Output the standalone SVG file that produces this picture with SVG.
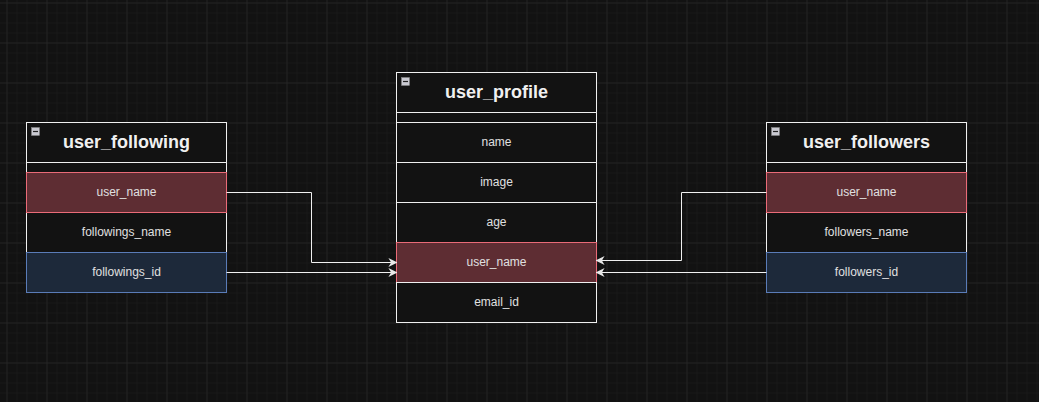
<svg xmlns="http://www.w3.org/2000/svg" width="1039" height="402" viewBox="0 0 1039 402">
<defs>
<pattern id="minor" x="6.5" y="2.5" width="10" height="10" patternUnits="userSpaceOnUse">
<path d="M0 0H10M0 0V10" fill="none" stroke="#1d1d1d" stroke-width="1"/>
</pattern>
<pattern id="major" x="6.5" y="2.5" width="40" height="40" patternUnits="userSpaceOnUse">
<path d="M0 0H40M0 0V40" fill="none" stroke="#2b2b2b" stroke-width="1"/>
</pattern>
<marker id="arr" viewBox="0 0 10 10" refX="9" refY="5" markerWidth="9" markerHeight="9" markerUnits="userSpaceOnUse" orient="auto">
<path d="M0 0L10 5L0 10L3 5Z" fill="#e8e8e8"/>
</marker>
</defs>
<style>
.box{fill:#121212;stroke:#f0f0f0;stroke-width:1}
.pk{fill:#5e2d33;stroke:#ea6b78;stroke-width:1}
.fk{fill:#1d293a;stroke:#5a7cb8;stroke-width:1}
.title{font-family:"Liberation Sans",Arial,sans-serif;font-size:18px;font-weight:bold;fill:#f0f0f0;text-anchor:middle}
.row{font-family:"Liberation Sans",Arial,sans-serif;font-size:12px;fill:#e0e0e0;text-anchor:middle}
.icon{fill:#c8c8d0;stroke:#888;stroke-width:0.5}
.conn{fill:none;stroke:#f0f0f0;stroke-width:1;marker-end:url(#arr)}
</style>
<rect width="1039" height="402" fill="#121212"/>
<rect width="1039" height="402" fill="url(#minor)"/>
<rect width="1039" height="402" fill="url(#major)"/>

<g id="user_following">
<rect class="box" x="26.5" y="122.5" width="200" height="170"/>
<line x1="26.5" y1="162.5" x2="226.5" y2="162.5" stroke="#f0f0f0"/>
<rect class="icon" x="31.5" y="127.5" width="8" height="8"/>
<line x1="33" y1="131.5" x2="38" y2="131.5" stroke="#222" stroke-width="1.2"/>
<text class="title" x="126.5" y="148">user_following</text>
<rect class="pk" x="26.5" y="172.5" width="200" height="40"/>
<text class="row" x="126.5" y="196">user_name</text>
<text class="row" x="126.5" y="236">followings_name</text>
<rect class="fk" x="26.5" y="252.5" width="200" height="40"/>
<text class="row" x="126.5" y="276">followings_id</text>
</g>

<g id="user_profile">
<rect class="box" x="396.5" y="72.5" width="200" height="250"/>
<line x1="396.5" y1="112.5" x2="596.5" y2="112.5" stroke="#f0f0f0"/>
<rect class="icon" x="401.5" y="77.5" width="8" height="8"/>
<line x1="403" y1="81.5" x2="408" y2="81.5" stroke="#222" stroke-width="1.2"/>
<text class="title" x="496.5" y="98">user_profile</text>
<rect class="box" x="396.5" y="122.5" width="200" height="40"/>
<text class="row" x="496.5" y="146">name</text>
<rect class="box" x="396.5" y="162.5" width="200" height="40"/>
<text class="row" x="496.5" y="186">image</text>
<rect class="box" x="396.5" y="202.5" width="200" height="40"/>
<text class="row" x="496.5" y="226">age</text>
<rect class="pk" x="396.5" y="242.5" width="200" height="40"/>
<text class="row" x="496.5" y="266">user_name</text>
<rect class="box" x="396.5" y="282.5" width="200" height="40"/>
<text class="row" x="496.5" y="306">email_id</text>
</g>

<g id="user_followers">
<rect class="box" x="766.5" y="122.5" width="200" height="170"/>
<line x1="766.5" y1="162.5" x2="966.5" y2="162.5" stroke="#f0f0f0"/>
<rect class="icon" x="771.5" y="127.5" width="8" height="8"/>
<line x1="773" y1="131.5" x2="778" y2="131.5" stroke="#222" stroke-width="1.2"/>
<text class="title" x="866.5" y="148">user_followers</text>
<rect class="pk" x="766.5" y="172.5" width="200" height="40"/>
<text class="row" x="866.5" y="196">user_name</text>
<text class="row" x="866.5" y="236">followers_name</text>
<rect class="fk" x="766.5" y="252.5" width="200" height="40"/>
<text class="row" x="866.5" y="276">followers_id</text>
</g>

<g id="connectors">
<path class="conn" d="M226.5 192.5H311.5V262.5H396.5"/>
<path class="conn" d="M226.5 272.5H396.5"/>
<path class="conn" d="M766.5 192.5H681.5V260.5H596.5" stroke="#bdbdbd" stroke-width="1.5"/>
<path class="conn" d="M766.5 272.5H596.5"/>
</g>
</svg>
